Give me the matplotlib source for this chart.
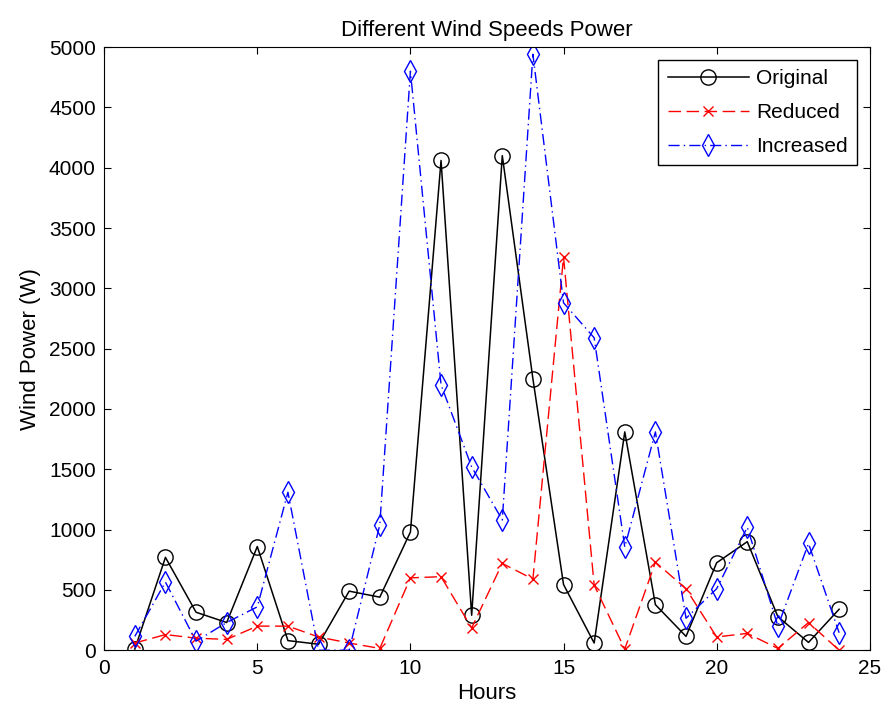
import numpy as np
import matplotlib
matplotlib.use("Agg")
import matplotlib.pyplot as plt

plt.rcParams['font.family'] = ['Liberation Sans', 'DejaVu Sans']

hours = np.arange(1, 25)
original = [10, 770, 315, 230, 860, 80, 50, 490, 440, 980, 4060, 290,
            4100, 2250, 545, 60, 1810, 378, 115, 725, 900, 278, 65, 340]
reduced = [60, 130, 100, 90, 200, 200, 110, 60, 15, 600, 610, 185,
           720, 590, 3260, 540, 10, 730, 510, 110, 140, 15, 230, 0]
increased = [115, 565, 75, 230, 360, 1310, 0, 0, 1040, 4800, 2200, 1520,
             1080, 4940, 2880, 2590, 855, 1810, 265, 510, 1020, 200, 885, 145]

fig = plt.figure(figsize=(8.83, 7.13), dpi=100)
ax = fig.add_axes([0.118, 0.088, 0.867, 0.846])

ax.plot(hours, original, 'k-o', mfc='none', ms=11, lw=1.1, label='Original')
ax.plot(hours, reduced, 'r--x', ms=7, lw=1.0, dashes=(9, 4), label='Reduced')
ax.plot(hours, increased, 'b-.d', mfc='none', ms=11, lw=1.0,
        dashes=(8, 3, 1, 3), label='Increased')

ax.set_xlim(0, 25)
ax.set_ylim(0, 5000)
ax.set_xticks(np.arange(0, 26, 5))
ax.set_yticks(np.arange(0, 5001, 500))
ax.tick_params(direction='in', top=True, right=True, labelsize=15, length=5, pad=6)
ax.set_xlabel('Hours', fontsize=16, labelpad=4)
ax.set_ylabel('Wind Power (W)', fontsize=16, labelpad=6)
ax.set_title('Different Wind Speeds Power', fontsize=16, pad=8)

leg = ax.legend(loc='upper right', fontsize=15, fancybox=False, edgecolor='k',
                framealpha=1, handlelength=3.9, handletextpad=0.35,
                labelspacing=0.72, borderpad=0.45, borderaxespad=0.6)
leg.get_frame().set_linewidth(1.0)

plt.savefig('out.png')
